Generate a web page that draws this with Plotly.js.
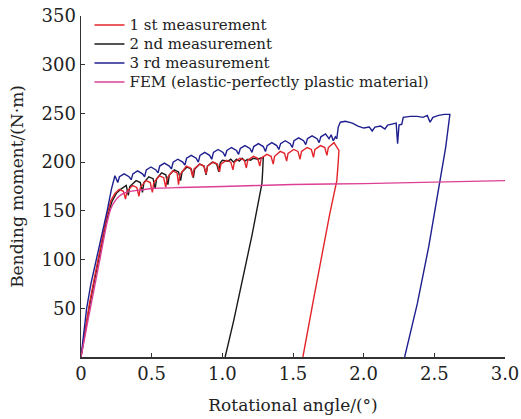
<!DOCTYPE html>
<html>
<head>
<meta charset="utf-8">
<script src="https://cdn.plot.ly/plotly-3.0.1.min.js"></script>
<style>html,body{margin:0;padding:0;background:#fff;}#chart{width:521px;height:419px;}</style>
</head>
<body>
<div id="chart"></div>
<script>
// ---- data ----
var seriesNames = ["1 st measurement", "2 nd measurement", "3 rd measurement", "FEM (elastic-perfectly plastic material)"];

var angle1 = [0,0.03,0.06,0.10,0.14,0.18,0.21,0.24,0.27,
  0.30,0.315,0.325,0.365, 0.395,0.41,0.42,0.46, 0.49,0.505,0.515,0.555, 0.585,0.60,0.61,0.65,
  0.68,0.69,0.70,0.745, 0.775,0.79,0.80,0.84, 0.87,0.885,0.895,0.935, 0.965,0.98,0.99,1.03,
  1.06,1.075,1.085,1.125, 1.155,1.17,1.18,1.22, 1.25,1.265,1.275,1.315, 1.345,1.36,1.37,1.41,
  1.44,1.455,1.465,1.505, 1.535,1.55,1.56,1.60, 1.63,1.645,1.655,1.695, 1.725,1.74,1.75,1.79,
  1.81,1.825,1.82,1.81,1.76,1.71,1.64,1.57];
var moment1 = [0,30,55,85,115,143,160,168,172,
  170,162,170,176, 174,165,174,181, 179,169,179,186, 184,174,184,191,
  189,177,187,196, 194,185,193,198, 196,188,196,200, 198,190,198,202,
  200,192,200,204, 202,194,202,206, 204,196,204,208, 206,198,206,211,
  209,201,209,213, 211,203,211,215, 213,205,213,217, 215,207,215,220,
  216,212,200,181,147,110,55,0];

var angle2 = [0,0.03,0.06,0.10,0.14,0.18,0.22,0.25,0.28,
  0.32,0.335,0.345,0.39, 0.42,0.435,0.445,0.48, 0.51,0.525,0.535,0.57, 0.60,0.615,0.625,0.66,
  0.69,0.705,0.715,0.75, 0.78,0.795,0.805,0.84, 0.87,0.885,0.895,0.93, 0.96,0.975,0.985,1.00,
  1.04,1.06,1.08,1.10,1.12,1.14,1.16,1.18,1.20,1.22,1.25,1.27,1.29,
  1.285,1.28,1.21,1.14,1.08,1.02];
var moment2 = [0,28,52,82,112,140,160,168,172,
  176,166,175,181, 179,169,179,185, 183,173,183,189, 187,177,187,192,
  190,181,190,195, 193,184,193,198, 196,187,196,200, 198,190,199,202,
  201,203,200,203,201,204,201,203,202,204,203,204,205,
  190,178,125,76,37,0];

var angle3 = [0,0.02,0.04,0.07,0.11,0.15,0.185,0.215,0.24,
  0.26,0.272,0.305,0.34, 0.355,0.367,0.40,0.435, 0.45,0.462,0.495,0.53, 0.545,0.557,0.59,0.625,
  0.64,0.652,0.685,0.72, 0.735,0.747,0.78,0.815, 0.83,0.842,0.875,0.91, 0.925,0.937,0.97,1.005,
  1.02,1.032,1.065,1.10, 1.115,1.127,1.16,1.195, 1.21,1.222,1.255,1.29, 1.305,1.317,1.35,1.385,
  1.40,1.412,1.445,1.48, 1.495,1.507,1.54,1.575, 1.59,1.602,1.635,1.67, 1.685,1.697,1.73,1.755,
  1.77,1.785,1.80,1.81,1.82,1.835,1.87,1.92,1.96,2.00,2.04,2.06,2.08,2.12,2.15,2.17,2.20,2.23,
  2.24,2.25,2.27,2.28,2.33,2.38,2.42,2.45,2.47,2.49,2.53,2.57,2.61,
  2.58,2.54,2.46,2.38,2.29];
var moment3 = [0,28,50,75,100,125,150,172,186,
  179,185,188,185, 182,188,191,188, 185,192,195,192, 189,196,199,196,
  193,200,203,200, 197,204,207,204, 200,207,210,207, 203,210,213,210,
  206,212,215,212, 208,214,217,214, 210,216,219,216, 211,217,220,217,
  213,219,222,219, 215,222,225,222, 218,224,227,224, 220,226,229,224,
  228,222,226,224,236,241,242,240,237,235,236,232,236,237,234,238,239,240,
  219,238,239,246,247,247,246,248,241,246,248,249,249,
  215,181,113,55,0];

var angleFEM = [0,0.05,0.10,0.14,0.18,0.21,0.24,0.27,0.30,0.35,0.40,0.50,0.70,1.00,1.50,2.00,2.50,3.00];
var momentFEM = [0,38,75,105,135,152,160,165,168,170,171,173,174,175,177,178,179.5,181];

var xTickVals = [0,0.5,1,1.5,2,2.5,3];
var xTickText = ["0","0.5","1.0","1.5","2.0","2.5","3.0"];
var yTickVals = [50,100,150,200,250,300,350];
var yTickText = ["50","100","150","200","250","300","350"];

var colors = ["#e3242b", "#1a1a1a", "#1f1f8f", "#dc3f95"];

var base = [
  {x: angle1, y: moment1},
  {x: angle2, y: moment2},
  {x: angle3, y: moment3},
  {x: angleFEM, y: momentFEM, line: {shape: 'spline', smoothing: 0.6}}
].map(function(t, i){
  t.type = 'scatter'; t.mode = 'lines';
  t.name = '<span style="font-size:15px">' + seriesNames[i] + '</span>';
  t.legendrank = i + 1;
  t.line = Object.assign({color: colors[i], width: 1.4}, t.line || {});
  return t;
});
// draw order: 2nd, 1st, 3rd, FEM (legend order kept by legendrank)
var traces = [base[1], base[0], base[2], base[3]];

var fontFam = "DejaVu Serif, Liberation Serif, serif";
var layout = {
  width: 521, height: 419,
  margin: {l: 81, r: 16, t: 15, b: 62},
  paper_bgcolor: '#fff', plot_bgcolor: '#fff',
  font: {family: fontFam, color: '#222', size: 18},
  showlegend: true,
  legend: {x: 0.02, y: 1.013, xanchor: 'left', yanchor: 'top', bgcolor: 'rgba(0,0,0,0)',
    font: {family: fontFam, size: 12, color: '#222'}, tracegroupgap: 0, itemwidth: 30,
    traceorder: 'normal'},
  xaxis: {range: [0, 3], tickvals: xTickVals, ticktext: xTickText, ticks: 'inside', ticklen: 4,
    tickcolor: '#333', showline: true, linecolor: '#333', linewidth: 1.5, showgrid: false, zeroline: false,
    tickfont: {family: fontFam, size: 18, color: '#222'},
    title: {text: 'Rotational angle/(°)', font: {family: fontFam, size: 17, color: '#222'}, standoff: 16}},
  yaxis: {range: [0, 350], tickvals: yTickVals, ticktext: yTickText, ticks: 'inside', ticklen: 4,
    tickcolor: '#333', showline: true, linecolor: '#333', linewidth: 1.5, showgrid: false, zeroline: false,
    tickfont: {family: fontFam, size: 18, color: '#222'},
    title: {text: 'Bending moment/(N·m)', font: {family: fontFam, size: 17, color: '#222'}, standoff: 13}}
};

Plotly.newPlot('chart', traces, layout, {staticPlot: true, displayModeBar: false});
</script>
</body>
</html>
